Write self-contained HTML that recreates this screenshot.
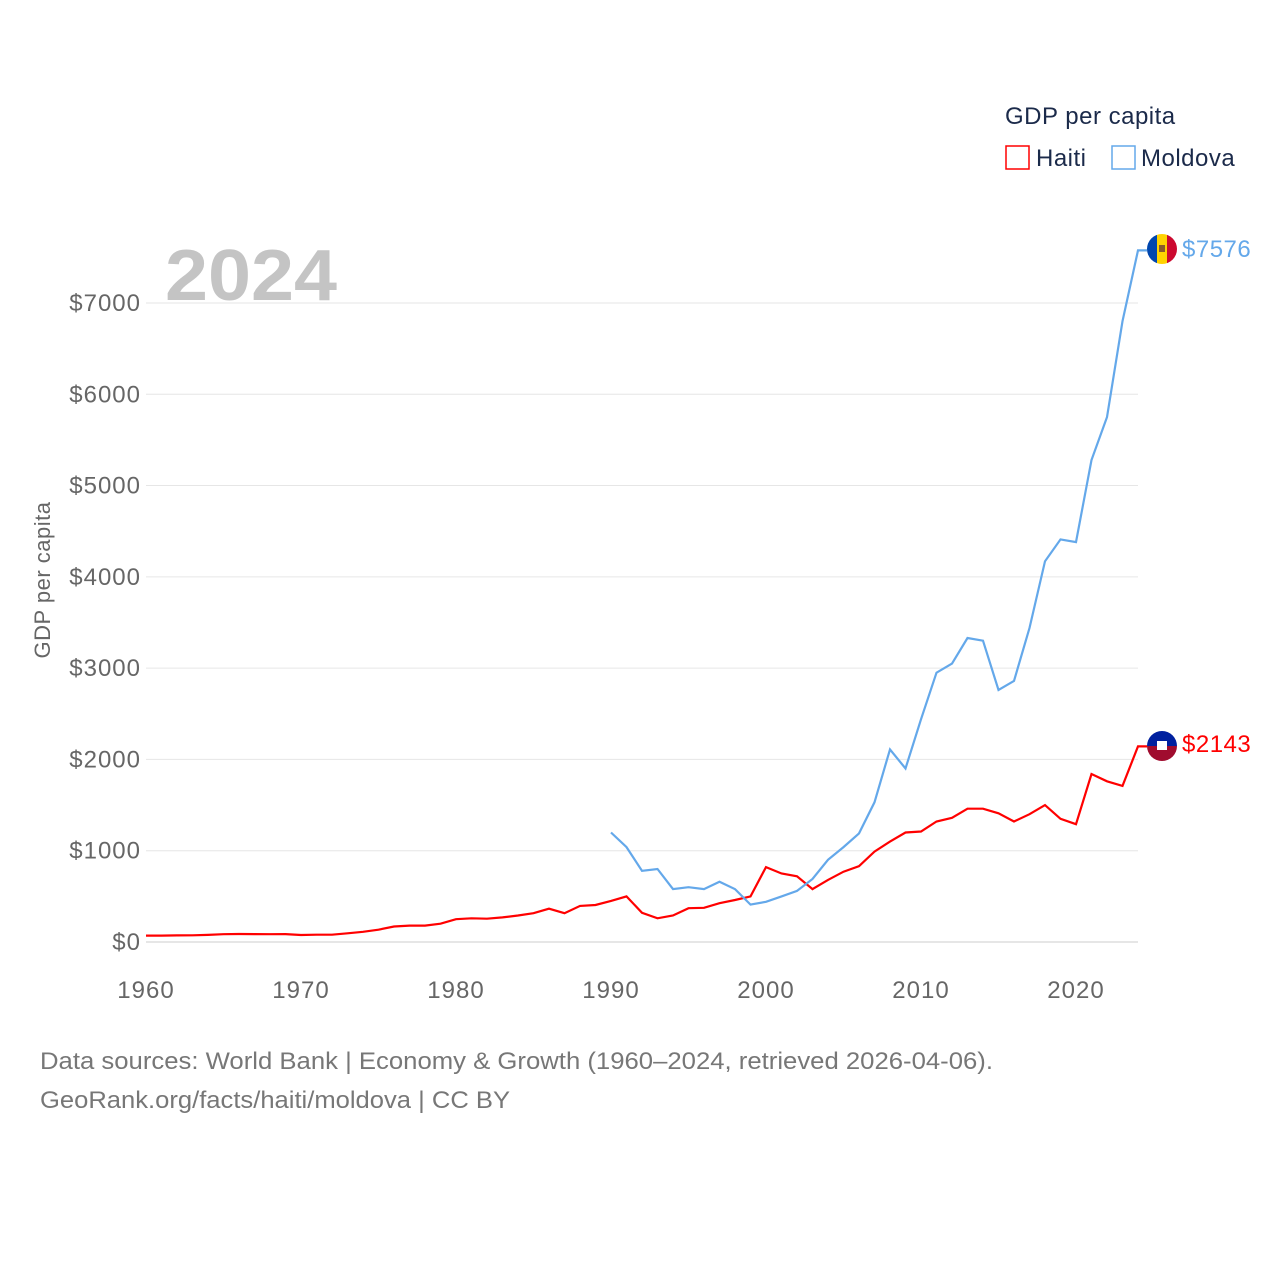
<!DOCTYPE html>
<html><head><meta charset="utf-8"><style>
body{margin:0;background:#fff;font-family:"Liberation Sans",sans-serif}
svg text{font-family:"Liberation Sans",sans-serif}
</style></head><body>
<svg width="1280" height="1280" viewBox="0 0 1280 1280">
<g id="grid"></g>
<text x="165" y="300" font-size="72" font-weight="bold" fill="#c4c4c4" textLength="172" lengthAdjust="spacingAndGlyphs">2024</text>
<text x="50" y="580" font-size="22" fill="#666" text-anchor="middle" letter-spacing="0.5" transform="rotate(-90 50 580)">GDP per capita</text>
<g id="plot"></g>
<g>
<text x="1005" y="124" font-size="24" fill="#1b2a4a" letter-spacing="0.5">GDP per capita</text>
<rect x="1006" y="146" width="23" height="23" fill="none" stroke="#f00" stroke-width="1.5"/>
<text x="1036" y="166" font-size="24" fill="#1b2a4a" letter-spacing="0.5">Haiti</text>
<rect x="1112" y="146" width="23" height="23" fill="none" stroke="#64a8ea" stroke-width="1.5"/>
<text x="1141" y="166" font-size="24" fill="#1b2a4a" letter-spacing="0.5">Moldova</text>
</g>
<g>
<clipPath id="c1"><circle cx="1162" cy="249" r="15"/></clipPath>
<g clip-path="url(#c1)"><rect x="1147" y="234" width="10" height="30" fill="#0046ae"/><rect x="1157" y="234" width="10" height="30" fill="#ffd200"/><rect x="1167" y="234" width="10" height="30" fill="#cc092f"/><rect x="1159" y="245" width="6" height="7" fill="#8a5a2b"/></g></g>
<g>
<clipPath id="c2"><circle cx="1162" cy="746" r="15"/></clipPath>
<g clip-path="url(#c2)"><rect x="1147" y="731" width="30" height="15" fill="#00209f"/><rect x="1147" y="746" width="30" height="15" fill="#a00c2e"/><rect x="1157" y="741" width="10" height="9" fill="#fff"/></g></g>
<text x="1182" y="257" font-size="24" fill="#64a8ea" letter-spacing="0.5">$7576</text>
<text x="1182" y="752" font-size="24" fill="#f00" letter-spacing="0.5">$2143</text>
<text x="40" y="1069" font-size="24" fill="#777" textLength="953" lengthAdjust="spacingAndGlyphs">Data sources: World Bank | Economy &amp; Growth (1960–2024, retrieved 2026-04-06).</text>
<text x="40" y="1108" font-size="24" fill="#777" textLength="470" lengthAdjust="spacingAndGlyphs">GeoRank.org/facts/haiti/moldova | CC BY</text>
</svg>
<script>
const yTicks=[0,1000,2000,3000,4000,5000,6000,7000];
const xTicks=[1960,1970,1980,1990,2000,2010,2020];
const haitiYears=[];for(let y=1960;y<=2024;y++)haitiYears.push(y);
const haitiValues=[70,70,72,73,78,85,88,87,85,87,77,80,80,95,112,135,170,180,180,200,250,260,255,270,290,315,365,315,395,405,450,500,320,260,290,370,375,425,460,500,820,750,720,580,680,770,830,990,1100,1200,1210,1320,1360,1460,1460,1410,1320,1400,1500,1350,1290,1840,1760,1710,2143];
const moldovaYears=[];for(let y=1990;y<=2024;y++)moldovaYears.push(y);
const moldovaValues=[1200,1040,780,800,580,600,580,660,580,410,440,500,560,690,900,1040,1190,1530,2110,1900,2440,2950,3050,3330,3300,2760,2860,3440,4170,4410,4380,5280,5750,6800,7576];
const X=y=>146+(y-1960)*15.5;
const Y=v=>942-v*0.09129;
const NS='http://www.w3.org/2000/svg';
const grid=document.getElementById('grid'),plot=document.getElementById('plot');
yTicks.forEach(t=>{
 const l=document.createElementNS(NS,'line');
 l.setAttribute('x1',146);l.setAttribute('x2',1138);l.setAttribute('y1',Y(t));l.setAttribute('y2',Y(t));
 l.setAttribute('stroke','#e6e6e6');l.setAttribute('stroke-width',t===0?2:1);
 
 
 grid.appendChild(l);
 const tx=document.createElementNS(NS,'text');
 tx.setAttribute('x',141);tx.setAttribute('y',Y(t)+8);tx.setAttribute('text-anchor','end');
 tx.setAttribute('font-size','24');tx.setAttribute('fill','#666');tx.setAttribute('letter-spacing','1');tx.textContent='$'+t;
 
 
 grid.appendChild(tx);
});
xTicks.forEach(t=>{
 const tx=document.createElementNS(NS,'text');
 tx.setAttribute('x',X(t));tx.setAttribute('y',998);tx.setAttribute('text-anchor','middle');
 tx.setAttribute('font-size','24');tx.setAttribute('fill','#666');tx.setAttribute('letter-spacing','1');tx.textContent=t;
 
 
 grid.appendChild(tx);
});
function line(years,vals,color,name){
 let d=years.map((y,i)=>(i?'L':'M')+X(y).toFixed(1)+' '+Y(vals[i]).toFixed(1)).join(' ');
 d+=' L'+(X(years[years.length-1])+9)+' '+Y(vals[vals.length-1]).toFixed(1);
 const p=document.createElementNS(NS,'path');
 p.setAttribute('d',d);p.setAttribute('fill','none');p.setAttribute('stroke',color);p.setAttribute('stroke-width',2.2);
 
 
 plot.appendChild(p);
}
line(haitiYears,haitiValues,'#f00','haiti-line');
line(moldovaYears,moldovaValues,'#64a8ea','moldova-line');
</script>
</body></html>
